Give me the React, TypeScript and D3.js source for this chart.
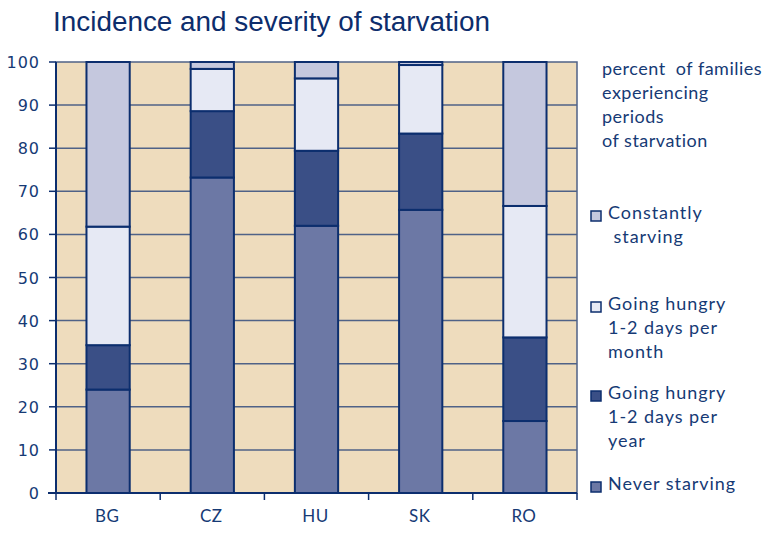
import React from "react";
import * as d3 from "d3";

const countries = ["BG", "CZ", "HU", "SK", "RO"];
const neverStarving = [24.0, 73.2, 62.0, 65.7, 16.7];
const hungryPerYear = [10.3, 15.4, 17.4, 17.7, 19.4];
const hungryPerMonth = [27.5, 9.8, 16.8, 15.9, 30.5];
const constantlyStarving = [38.2, 1.6, 3.8, 0.7, 33.4];
const yTicks = [0, 10, 20, 30, 40, 50, 60, 70, 80, 90, 100];

const seriesKeys = ["never", "year", "month", "constant"];
const seriesColors = ["#6c78a5", "#3a4f86", "#e6e9f4", "#c5c8de"];

const legendItems = [
  { color: "#c5c8de", lines: ["Constantly", " starving"], y: 211 },
  { color: "#e6e9f4", lines: ["Going hungry", "1-2 days per", "month"], y: 302 },
  { color: "#3a4f86", lines: ["Going hungry", "1-2 days per", "year"], y: 391 },
  { color: "#6c78a5", lines: ["Never starving"], y: 482 },
];
const noteLines = ["percent  of families", "experiencing", "periods", "of starvation"];

const TEXT = "#163a75";
const DARK = "#0c2e6e";
const GRID = "#4f6287";

export default function App() {
  const left = 56, right = 577, top = 62, bottom = 493;
  const x = d3.scaleBand<string>().domain(countries).range([left, right]).padding(0);
  const y = d3.scaleLinear().domain([0, 100]).range([bottom, top]);
  const barW = x.bandwidth() * 0.415;

  const rows = countries.map((c, i) => ({
    country: c,
    never: neverStarving[i],
    year: hungryPerYear[i],
    month: hungryPerMonth[i],
    constant: constantlyStarving[i],
  }));
  const stacked = d3.stack<any>().keys(seriesKeys)(rows);

  const boundaries = [...countries.map((c) => x(c) as number), right];

  return (
    <svg width={764} height={546} style={{ position: "absolute", left: 0, top: 0 }}>
      <rect x={0} y={0} width={764} height={546} fill="#ffffff" />
      <text x={53} y={31} fontFamily="Liberation Sans, Arial, sans-serif" fontSize={27}
        fill="#0d2d6c" textLength={437} lengthAdjust="spacingAndGlyphs">
        Incidence and severity of starvation
      </text>

      <rect x={left} y={top} width={right - left} height={bottom - top} fill="#eedcbd"
        stroke={GRID} strokeWidth={1.5} />
      {yTicks.filter((t) => t > 0 && t < 100).map((t) => (
        <line key={t} x1={left} x2={right} y1={y(t)} y2={y(t)} stroke={GRID} strokeWidth={1.5} />
      ))}

      {stacked.map((layer, si) =>
        layer.map((d, i) => (
          <rect key={`${si}-${i}`}
            x={(x(countries[i]) as number) + (x.bandwidth() - barW) / 2}
            y={y(d[1])}
            width={barW}
            height={y(d[0]) - y(d[1])}
            fill={seriesColors[si]}
            stroke={DARK}
            strokeWidth={2} />
        ))
      )}

      <line x1={left} x2={left} y1={top} y2={bottom + 1} stroke={DARK} strokeWidth={2} />
      <line x1={left - 8} x2={right} y1={bottom} y2={bottom} stroke={DARK} strokeWidth={2} />
      {yTicks.map((t) => (
        <g key={t}>
          <line x1={left - 7} x2={left} y1={y(t)} y2={y(t)} stroke={DARK} strokeWidth={1.5} />
          <text x={40} y={y(t) + 6} textAnchor="end" fontFamily="DejaVu Sans, sans-serif"
            fontSize={16} letterSpacing={1} fill={TEXT}>{t}</text>
        </g>
      ))}
      {boundaries.map((b, i) => (
        <line key={i} x1={b} x2={b} y1={bottom} y2={bottom + 7} stroke={DARK} strokeWidth={1.5} />
      ))}
      {countries.map((c) => (
        <text key={c} x={(x(c) as number) + x.bandwidth() / 2 - 1} y={522} textAnchor="middle"
          fontFamily="Lato, sans-serif" fontSize={17} letterSpacing={0.4} fill={TEXT}>{c}</text>
      ))}

      {noteLines.map((l, i) => (
        <text key={i} x={602} y={75 + i * 24} fontFamily="Lato, sans-serif" fontSize={18}
          letterSpacing={0.5} fill={TEXT} style={{ whiteSpace: "pre" }}>{l}</text>
      ))}
      {legendItems.map((it, k) => (
        <g key={k}>
          <rect x={591} y={it.y} width={10} height={10} fill={it.color} stroke={DARK} strokeWidth={1.5} />
          {it.lines.map((l, j) => (
            <text key={j} x={608} y={it.y + 8 + j * 24} fontFamily="Lato, sans-serif" fontSize={18}
              letterSpacing={0.95} fill={TEXT} style={{ whiteSpace: "pre" }}>{l}</text>
          ))}
        </g>
      ))}
    </svg>
  );
}
